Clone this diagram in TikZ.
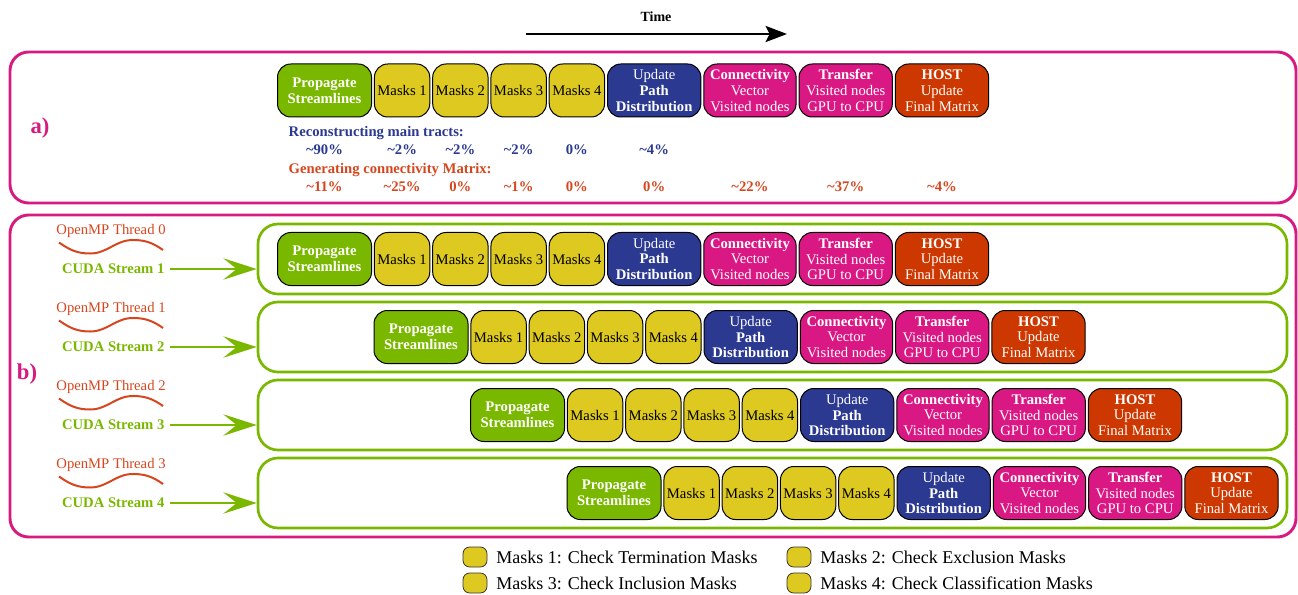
\documentclass[tikz,border=0pt]{standalone}
\usepackage{fontspec}
\setmainfont{Liberation Serif}
\usetikzlibrary{arrows.meta, positioning}
\definecolor{streamgreen}{RGB}{122,184,0}
\definecolor{maskyellow}{RGB}{221,201,31}
\definecolor{pathblue}{RGB}{43,57,144}
\definecolor{vecmagenta}{RGB}{218,24,132}
\definecolor{hostred}{RGB}{204,56,0}
\definecolor{panelmagenta}{RGB}{214,26,128}
\definecolor{genorange}{RGB}{214,70,30}

\begin{document}
\begin{tikzpicture}[x=0.75pt, y=-0.75pt,
    task/.style={draw=black, line width=0.75pt, rounded corners=10pt, minimum height=39.75pt, inner sep=0pt,
        align=center, text=white, font=\fontsize{11}{11.8}\selectfont},
    propbox/.style={task, fill=streamgreen, minimum width=70.5pt, font=\fontsize{11}{11.8}\selectfont\bfseries},
    maskbox/.style={task, fill=maskyellow, text=black, minimum width=41.5pt},
    pathbox/.style={task, fill=pathblue, minimum width=70pt},
    vecbox/.style={task, fill=vecmagenta, minimum width=69.25pt},
    transbox/.style={task, fill=vecmagenta, minimum width=70pt},
    hostbox/.style={task, fill=hostred, minimum width=70pt},
    streambox/.style={draw=streamgreen, line width=2pt, rounded corners=15pt, minimum width=771.75pt, minimum height=52.5pt},
    panel/.style={draw=panelmagenta, line width=2.2pt, rounded corners=14pt},
    panellabel/.style={text=panelmagenta, font=\fontsize{17}{19}\selectfont\bfseries},
    pct/.style={font=\fontsize{11}{12}\selectfont\bfseries},
    openmp/.style={text=genorange, font=\fontsize{11}{12}\selectfont},
    cuda/.style={text=streamgreen, font=\fontsize{11}{12}\selectfont\bfseries, anchor=east, inner sep=1pt},
    streamarrow/.style={draw=streamgreen, line width=2pt, shorten <=3pt, -{Stealth[length=25pt, width=16pt, inset=10pt]}},
    wave/.style={draw=genorange, line width=1.5pt},
    keybox/.style={draw=black!80, line width=0.6pt, fill=maskyellow, rounded corners=5pt, minimum width=18pt, minimum height=15pt},
    legend/.style={font=\fontsize{13.5}{15}\selectfont, inner sep=0pt}]
    \useasboundingbox (0,0) rectangle (1298,595);

    % Time axis
    \node[font=\fontsize{10.5}{12}\selectfont\bfseries] (time) at (656,17) {Time};
    \coordinate (tstart) at (526,34);
    \coordinate (tend) at (787,34);
    \draw[line width=2.2pt, -{Stealth[length=16pt, width=12pt, inset=3pt]}] (tstart) -- (tend);

    % Panels
    \draw[panel] (10,52) rectangle (1296,203);
    \draw[panel] (10,215) rectangle (1296,537);
    \node[panellabel] (labela) at (40,128) {a)};
    \node[panellabel] (labelb) at (27,374) {b)};

    % Task rows: row 0 is panel a), rows 1-4 are the streams of panel b)
    \foreach \r/\x/\y in {0/277/90.5, 1/277/259, 2/373.5/337, 3/470/415, 4/566.5/493} {
        \node[propbox, anchor=west] (prop\r) at (\x,\y) {Propagate\\Streamlines};
        \node[maskbox, right=1.45pt of prop\r] (ma\r) {Masks 1};
        \node[maskbox, right=1.45pt of ma\r] (mb\r) {Masks 2};
        \node[maskbox, right=1.45pt of mb\r] (mc\r) {Masks 3};
        \node[maskbox, right=1.45pt of mc\r] (md\r) {Masks 4};
        \node[pathbox, right=1.45pt of md\r] (path\r) {Update\\\textbf{Path}\\\textbf{Distribution}};
        \node[vecbox, right=1.45pt of path\r] (vec\r) {\textbf{Connectivity}\\Vector\\Visited nodes};
        \node[transbox, right=1.45pt of vec\r] (trans\r) {\textbf{Transfer}\\Visited nodes\\GPU to CPU};
        \node[hostbox, right=1.45pt of trans\r] (host\r) {\textbf{HOST}\\Update\\Final Matrix};
    }

    % Shares of the run time
    \coordinate (recrow) at (0,150);
    \coordinate (genrow) at (0,186.5);
    \node[pct, text=pathblue, anchor=west] (rectitle) at (284,133) {Reconstructing main tracts:};
    \node[pct, text=genorange, anchor=west] (gentitle) at (284,170) {Generating connectivity Matrix:};
    \foreach \b/\v in {prop0/\textasciitilde90\%, ma0/\textasciitilde2\%, mb0/\textasciitilde2\%,
        mc0/\textasciitilde2\%, md0/0\%, path0/\textasciitilde4\%}
        \node[pct, text=pathblue] (rec\b) at (\b |- recrow) {\v};
    \foreach \b/\v in {prop0/\textasciitilde11\%, ma0/\textasciitilde25\%, mb0/0\%, mc0/\textasciitilde1\%,
        md0/0\%, path0/0\%, vec0/\textasciitilde22\%, trans0/\textasciitilde37\%, host0/\textasciitilde4\%}
        \node[pct, text=genorange] (gen\b) at (\b |- genrow) {\v};

    % Streams
    \foreach \r/\y [evaluate=\r as \t using int(\r-1)] in {1/259, 2/337, 3/415, 4/493} {
        \node[streambox] (stream\r) at (772.5,\y) {};
        \node[openmp] (omp\r) at (111,{\y-28.5}) {OpenMP Thread \t};
        \draw[wave] (59,{\y-16.5}) to[out=-35, in=180] (90,{\y-5.5}) to[out=0, in=180] (133,{\y-19}) to[out=0, in=145] (163,{\y-9});
        \node[cuda] (cuda\r) at (166,{\y+10}) {CUDA Stream \r};
        \draw[streamarrow] (cuda\r.east) -- (stream\r.west |- cuda\r);
    }

    % Legend
    \node[keybox] (key1) at (475,557) {};
    \node[keybox] (key2) at (799,557) {};
    \node[keybox] (key3) at (475,583) {};
    \node[keybox] (key4) at (799,583) {};
    \node[legend, right=6.5pt of key1] (leg1) {Masks 1: Check Termination Masks};
    \node[legend, right=6.5pt of key2] (leg2) {Masks 2: Check Exclusion Masks};
    \node[legend, right=6.5pt of key3] (leg3) {Masks 3: Check Inclusion Masks};
    \node[legend, right=6.5pt of key4] (leg4) {Masks 4: Check Classification Masks};
\end{tikzpicture}
\end{document}
